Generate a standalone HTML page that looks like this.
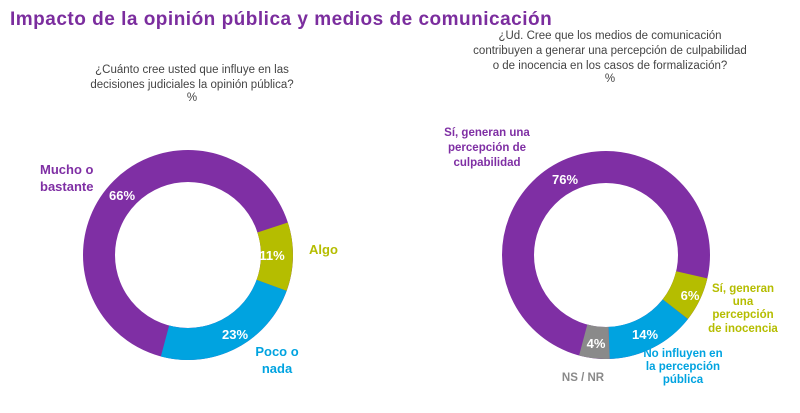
<!DOCTYPE html>
<html><head><meta charset="utf-8"><style>
body{margin:0;background:#fff;width:800px;height:408px;overflow:hidden;font-family:"Liberation Sans",sans-serif}
</style></head><body>
<svg width="800" height="408" xmlns="http://www.w3.org/2000/svg" font-family="Liberation Sans, sans-serif">
<text x="10" y="25" font-size="19" font-weight="bold" fill="#7B2D9E" letter-spacing="0.5">Impacto de la opinión pública y medios de comunicación</text>
<g font-size="11.5" fill="#444" text-anchor="middle">
<text x="192" y="73">¿Cuánto cree usted que influye en las</text>
<text x="192" y="88">decisiones judiciales la opinión pública?</text>
<text x="192" y="101">%</text>
<text x="610" y="39">¿Ud. Cree que los medios de comunicación</text>
<text x="610" y="54">contribuyen a generar una percepción de culpabilidad</text>
<text x="610" y="69">o de inocencia en los casos de formalización?</text>
<text x="610" y="82">%</text>
</g>
<g fill="none" stroke-width="32">
<circle cx="188" cy="255" r="89" stroke="#7F2FA4"/>
<path d="M272.6 227.5 A89 89 0 0 1 271.6 285.4" stroke="#B5BD00"/>
<path d="M271.6 285.4 A89 89 0 0 1 165.0 341.0" stroke="#00A3E0"/>
<circle cx="606" cy="255" r="88" stroke="#7F2FA4"/>
<path d="M691.7 274.8 A88 88 0 0 1 675.3 309.2" stroke="#B5BD00"/>
<path d="M675.3 309.2 A88 88 0 0 1 609.1 342.9" stroke="#00A3E0"/>
<path d="M609.1 342.9 A88 88 0 0 1 583.2 340.0" stroke="#8A8A8A"/>
</g>
<g fill="#fff" font-size="13" font-weight="bold" text-anchor="middle">
<text x="122" y="200">66%</text><text x="272" y="260">11%</text><text x="235" y="339">23%</text>
<text x="565" y="184">76%</text><text x="690" y="300">6%</text><text x="645" y="339">14%</text><text x="596" y="348">4%</text>
</g>
<g font-size="13" font-weight="bold">
<text x="40" y="174" fill="#7F2FA4">Mucho o</text><text x="40" y="191" fill="#7F2FA4">bastante</text>
<text x="309" y="254" fill="#B5BD00">Algo</text>
<g text-anchor="middle" fill="#00A3E0"><text x="277" y="356">Poco o</text><text x="277" y="373">nada</text></g>
</g>
<g font-size="11.5" font-weight="bold" text-anchor="middle">
<g fill="#7F2FA4"><text x="487" y="136">Sí, generan una</text><text x="487" y="151">percepción de</text><text x="487" y="166">culpabilidad</text></g>
<g fill="#B5BD00"><text x="743" y="292">Sí, generan</text><text x="743" y="305">una</text><text x="743" y="318">percepción</text><text x="743" y="332">de inocencia</text></g>
<g fill="#00A3E0"><text x="683" y="357">No influyen en</text><text x="683" y="370">la percepción</text><text x="683" y="383">pública</text></g>
<text x="583" y="381" fill="#8A8A8A">NS / NR</text>
</g>
</svg>
</body></html>
